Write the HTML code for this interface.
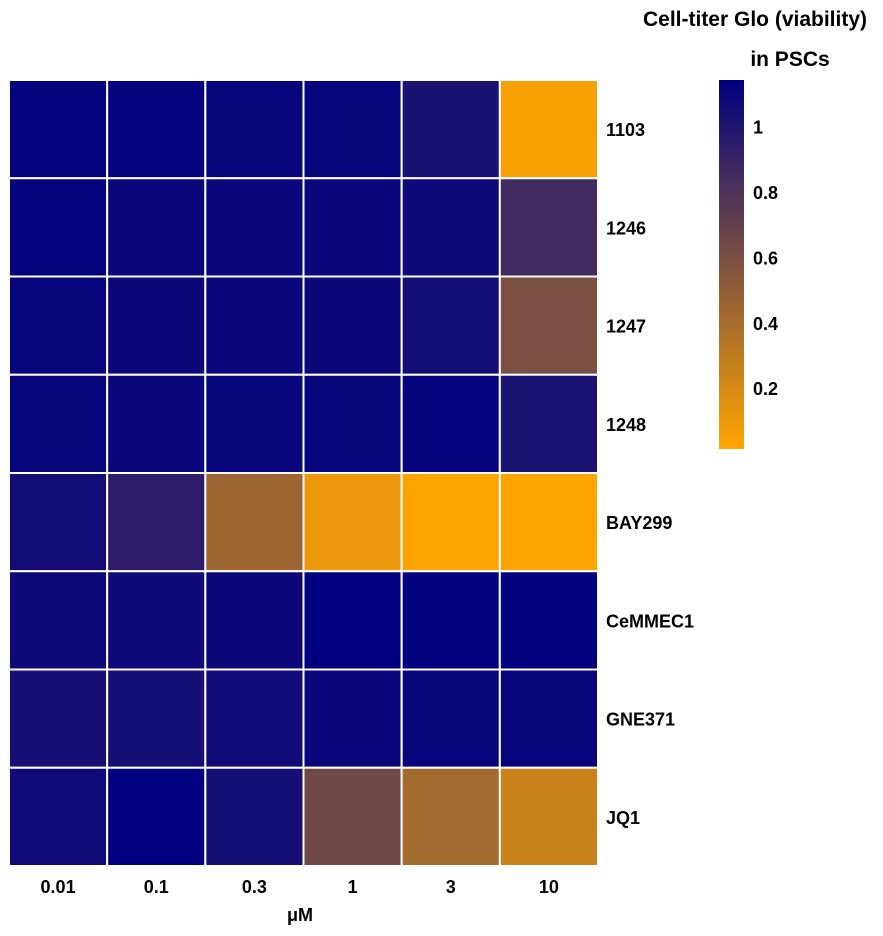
<!DOCTYPE html>
<html><head><meta charset="utf-8"><style>
body{margin:0;background:#fff;}
svg text{font-family:"Liberation Sans",Arial,sans-serif;font-weight:bold;fill:#000;}
</style></head><body>
<svg width="883" height="931">
<defs><linearGradient id="lg" x1="0" y1="1" x2="0" y2="0">
<stop offset="0" stop-color="rgb(255,165,0)"/><stop offset="1" stop-color="rgb(0,0,128)"/></linearGradient></defs>
<g id="cells"></g>
<g id="labels"></g>
<text x="300" y="921" font-size="18" text-anchor="middle">μM</text>
<text x="755" y="26" font-size="21" text-anchor="middle">Cell-titer Glo (viability)</text>
<text x="790" y="66" font-size="21" text-anchor="middle">in PSCs</text>
<rect x="719" y="80" width="25" height="369" fill="url(#lg)"/>
<g id="legendticks"></g>
</svg>
<script>
const columns=["0.01","0.1","0.3","1","3","10"];
const rows=["1103","1246","1247","1248","BAY299","CeMMEC1","GNE371","JQ1"];
const v1103=[1.12,1.12,1.11,1.11,1.03,0.05];
const v1246=[1.12,1.1,1.1,1.1,1.08,0.85];
const v1247=[1.11,1.09,1.1,1.09,1.06,0.6];
const v1248=[1.11,1.1,1.11,1.11,1.12,1.02];
const vBAY299=[1.06,0.95,0.45,0.1,0.02,0.02];
const vCeMMEC1=[1.08,1.08,1.09,1.14,1.13,1.13];
const vGNE371=[1.04,1.05,1.07,1.1,1.11,1.11];
const vJQ1=[1.07,1.14,1.05,0.65,0.42,0.25];
const legendTicks=[0.2,0.4,0.6,0.8,1];
const values=[v1103,v1246,v1247,v1248,vBAY299,vCeMMEC1,vGNE371,vJQ1];
const vmin=0.014,vmax=1.143;
const X0=9,X1=598,Y0=80,Y1=866;
const cw=(X1-X0)/columns.length, rh=(Y1-Y0)/rows.length;
function color(v){let t=Math.max(0,Math.min(1,(v-vmin)/(vmax-vmin)));
return `rgb(${Math.round(255*(1-t))},${Math.round(165*(1-t))},${Math.round(128*t)})`;}
function legendY(v){return 449-(v-vmin)/(vmax-vmin)*369;}
const NS="http://www.w3.org/2000/svg";
const cells=document.getElementById('cells'),labels=document.getElementById('labels'),lt=document.getElementById('legendticks');
rows.forEach((r,i)=>{columns.forEach((c,j)=>{
const el=document.createElementNS(NS,'rect');
el.setAttribute('x',X0+j*cw);el.setAttribute('y',Y0+i*rh);
el.setAttribute('width',cw);el.setAttribute('height',rh);
el.setAttribute('fill',color(values[i][j]));el.setAttribute('stroke','#fff');el.setAttribute('stroke-width','2');


cells.appendChild(el);});
const t=document.createElementNS(NS,'text');
t.setAttribute('x',606);t.setAttribute('y',Y0+(i+0.5)*rh+7);t.setAttribute('font-size','18');t.textContent=r;


labels.appendChild(t);});
columns.forEach((c,j)=>{const t=document.createElementNS(NS,'text');
t.setAttribute('x',X0+(j+0.5)*cw);t.setAttribute('y',893);t.setAttribute('font-size','18');t.setAttribute('text-anchor','middle');t.textContent=c;


labels.appendChild(t);});
legendTicks.forEach(v=>{const t=document.createElementNS(NS,'text');
t.setAttribute('x',753);t.setAttribute('y',legendY(v)+7);t.setAttribute('font-size','18');t.textContent=String(v);


lt.appendChild(t);});
</script>
</body></html>
